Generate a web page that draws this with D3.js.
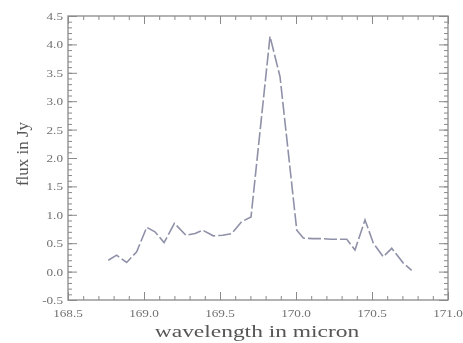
<!DOCTYPE html>
<html><head><meta charset="utf-8">
<script src="https://cdn.jsdelivr.net/npm/d3@7"></script>
<style>body{margin:0;background:#fff}svg{display:block}</style>
</head><body><svg id="c" width="463" height="343"></svg>
<script>
const wavelength = [168.765,168.82,168.886,168.952,169.018,169.072,169.132,169.2,169.276,169.336,169.386,169.456,169.518,169.577,169.643,169.704,169.829,169.895,170.005,170.048,170.11,170.17,170.23,170.29,170.334,170.388,170.454,170.509,170.574,170.63,170.706,170.761];
const flux = [0.20,0.29,0.16,0.35,0.78,0.70,0.51,0.85,0.64,0.67,0.73,0.63,0.64,0.67,0.88,0.96,4.14,3.43,0.73,0.59,0.58,0.58,0.57,0.57,0.57,0.38,0.91,0.50,0.26,0.41,0.15,0.02];
const xTicks = [168.5,169.0,169.5,170.0,170.5,171.0];
const yTicks = [-0.5,0.0,0.5,1.0,1.5,2.0,2.5,3.0,3.5,4.0,4.5];

const L=68,R=448,T=16,B=300;
const svg=d3.select("#c");
const x=d3.scaleLinear().domain([168.5,171.0]).range([L,R]);
const y=d3.scaleLinear().domain([-0.5,4.5]).range([B,T]);
const axCol="#8a8a8a", txtCol="#707070";
const g=svg.append("g").style("filter","blur(0.4px)");

const xMinor=d3.range(0,26).map(i=>168.5+i*0.1);
const yMinor=d3.range(0,51).map(i=>-0.5+i*0.1);
function ticks(axis, pos, vals, len){
  g.append("g").call(axis(len).tickValues(vals).tickFormat(""))
   .attr("transform",pos).call(s=>{s.select(".domain").remove();s.selectAll("line").attr("stroke",axCol);});
}
ticks(l=>d3.axisBottom(x).tickSizeInner(-l).tickSizeOuter(0),`translate(0,${B})`,xMinor,4);
ticks(l=>d3.axisBottom(x).tickSizeInner(-l).tickSizeOuter(0),`translate(0,${B})`,xTicks,8);
ticks(l=>d3.axisTop(x).tickSizeInner(-l).tickSizeOuter(0),`translate(0,${T})`,xMinor,4);
ticks(l=>d3.axisTop(x).tickSizeInner(-l).tickSizeOuter(0),`translate(0,${T})`,xTicks,8);
ticks(l=>d3.axisLeft(y).tickSizeInner(-l).tickSizeOuter(0),`translate(${L},0)`,yMinor,4);
ticks(l=>d3.axisLeft(y).tickSizeInner(-l).tickSizeOuter(0),`translate(${L},0)`,yTicks,9);
ticks(l=>d3.axisRight(y).tickSizeInner(-l).tickSizeOuter(0),`translate(${R},0)`,yMinor,4);
ticks(l=>d3.axisRight(y).tickSizeInner(-l).tickSizeOuter(0),`translate(${R},0)`,yTicks,9);

g.append("rect").attr("x",L).attr("y",T).attr("width",R-L).attr("height",B-T)
 .attr("fill","none").attr("stroke",axCol).attr("stroke-width",1.3);

const font="Liberation Serif, Times New Roman, serif";
g.selectAll(".xl").data(xTicks).join("text")
 .attr("transform",d=>`translate(${x(d)},${B+17}) scale(1.2,1)`)
 .attr("text-anchor","middle").attr("font-family",font).attr("font-size",11).attr("fill",txtCol)
 .text(d=>d.toFixed(1));
g.selectAll(".yl").data(yTicks).join("text")
 .attr("transform",d=>`translate(${L-5},${y(d)+4}) scale(1.2,1)`)
 .attr("text-anchor","end").attr("font-family",font).attr("font-size",11).attr("fill",txtCol)
 .text(d=>d.toFixed(1));

g.append("text").attr("transform",`translate(${(L+R)/2-1},337) scale(1.38,1)`).attr("text-anchor","middle")
 .attr("font-family",font).attr("font-size",17).attr("fill","#555").text("wavelength in micron");
g.append("text").attr("transform",`translate(28,154) rotate(-90)`).attr("text-anchor","middle")
 .attr("font-family",font).attr("font-size",17).attr("fill","#555").text("flux in Jy");

const line=d3.line().x((d,i)=>x(wavelength[i])).y(d=>y(d));
g.append("path").datum(flux).attr("d",line).attr("fill","none")
 .attr("stroke","#8f91a8").attr("stroke-width",1.6).attr("stroke-dasharray","13,3");
</script></body></html>
